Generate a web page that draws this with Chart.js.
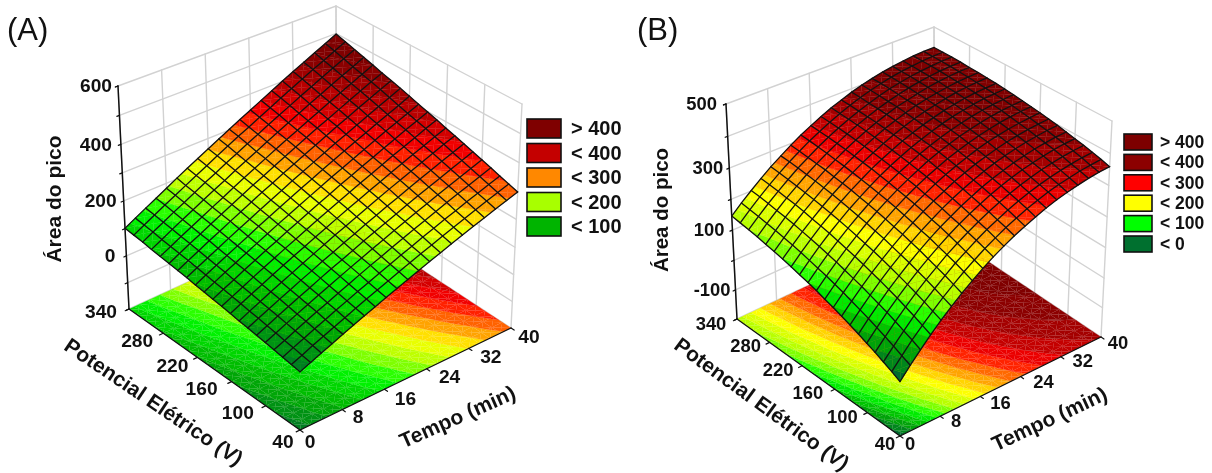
<!DOCTYPE html>
<html>
<head>
<meta charset="utf-8">
<title>Área do pico</title>
<script src="https://cdn.jsdelivr.net/npm/chart.js@4"></script>
<style>
html, body { margin: 0; padding: 0; background: #fff; }
canvas { position: absolute; top: 0; display: block; }
</style>
</head>
<body>
<canvas id="chartA" width="630" height="473" style="left:0"></canvas>
<canvas id="chartB" width="582" height="473" style="left:630px"></canvas>
<script>
var tempoTicks = [0, 8, 16, 24, 32, 40];
var potencialTicks = [40, 100, 160, 220, 280, 340];
var areaGridA = [-100, 0, 100, 200, 300, 400, 500, 600];
var areaTicksA = [0, 200, 400, 600];
var areaGridB = [-100, 0, 100, 200, 300, 400, 500];
var areaTicksB = [-100, 100, 300, 500];

var legendLabelsA = ['> 400', '< 400', '< 300', '< 200', '< 100'];
var legendColorsA = ['#7f0000', '#c40000', '#ff8800', '#a8ff00', '#00b400'];
var legendLabelsB = ['> 400', '< 400', '< 300', '< 200', '< 100', '< 0'];
var legendColorsB = ['#7d0000', '#8c0000', '#ff0000', '#ffff00', '#00ff00', '#00702f'];

// rows: potencial 40..340 step 15, columns: tempo 0..40 step 2
var areaA = [
  [-14,1,16,31,46,61,76,91,106,121,136,151,166,181,196,211,226,241,256,271,286],
  [-9,6,22,37,52,67,83,98,113,128,144,159,174,189,205,220,235,250,266,281,296],
  [-4,12,27,43,58,74,89,105,120,136,151,167,182,198,213,229,244,260,275,291,306],
  [2,17,33,49,65,80,96,112,128,144,159,175,191,207,222,238,254,270,285,301,317],
  [7,23,39,55,71,87,103,119,135,151,167,183,199,215,231,247,263,279,295,311,327],
  [12,28,45,61,77,93,110,126,142,158,175,191,207,223,240,256,272,288,305,321,337],
  [17,34,50,67,83,100,116,133,149,166,182,199,215,232,248,265,282,298,315,331,348],
  [22,39,56,73,90,106,123,140,157,174,190,207,224,241,258,274,291,308,325,342,358],
  [28,45,62,79,96,113,130,147,164,181,198,215,232,249,266,283,300,317,334,351,368],
  [33,50,67,85,102,119,137,154,171,189,206,223,240,258,275,292,310,327,344,362,379],
  [38,56,73,91,108,126,143,161,178,196,214,231,249,266,284,301,319,336,354,371,389],
  [43,61,79,96,114,132,150,168,185,203,221,239,257,274,292,310,328,346,363,381,399],
  [48,66,84,102,120,138,157,175,193,211,229,247,265,283,301,319,337,355,373,391,410],
  [54,72,90,108,127,145,163,182,200,218,237,255,273,291,310,328,346,365,383,401,420],
  [59,78,96,115,133,152,170,189,208,226,245,263,282,300,319,338,356,375,393,412,430],
  [64,83,102,120,139,158,177,196,215,233,252,271,290,309,328,346,365,384,403,422,440],
  [69,88,107,126,145,164,183,203,222,241,260,279,298,317,336,355,374,393,412,431,451],
  [74,93,113,132,151,171,190,209,229,248,267,287,306,325,345,364,383,403,422,441,461],
  [80,100,119,139,158,178,198,217,237,256,276,295,315,335,354,374,393,413,432,452,471],
  [85,105,125,145,164,184,204,224,244,264,284,303,323,343,363,383,403,423,442,462,482],
  [90,110,130,150,170,191,211,231,251,271,291,311,331,351,371,392,412,432,452,472,492]
];
var areaB = [
  [-42,-8,24,55,85,113,139,164,188,210,230,249,266,282,297,310,321,331,340,347,352],
  [-29,4,37,67,96,124,150,175,198,220,240,259,276,292,306,319,330,339,348,354,360],
  [-17,16,48,79,108,135,161,186,208,230,250,268,285,301,315,327,338,347,355,362,367],
  [-5,28,60,90,119,146,171,196,218,239,259,277,294,309,323,335,346,355,363,369,374],
  [6,39,71,101,129,156,181,205,228,249,268,286,303,318,331,343,353,362,370,376,380],
  [17,50,81,111,139,166,191,215,237,257,277,294,311,325,338,350,360,369,376,382,386],
  [28,60,91,121,149,175,200,223,245,266,285,302,318,333,346,357,367,375,382,388,392],
  [38,70,101,130,158,184,209,232,254,274,292,310,325,340,352,363,373,381,388,393,397],
  [48,80,110,139,167,193,217,240,262,281,300,317,332,346,359,370,379,387,393,398,402],
  [57,89,119,148,175,201,225,248,269,289,307,323,339,352,364,375,384,392,398,403,406],
  [67,98,128,156,183,209,233,255,276,295,313,330,345,358,370,380,389,397,403,407,410],
  [75,106,136,164,191,216,240,262,283,302,319,336,350,363,375,385,394,401,407,411,414],
  [83,114,144,172,198,223,246,268,289,308,325,341,355,368,380,390,398,405,411,414,417],
  [91,122,151,179,205,230,253,274,295,313,330,346,360,373,384,394,402,409,414,417,420],
  [99,129,158,185,211,236,259,280,300,318,335,351,365,377,388,397,405,412,417,420,422],
  [106,136,165,192,217,242,264,285,305,323,340,355,369,381,392,401,408,414,419,422,424],
  [112,142,171,198,223,247,270,290,310,328,344,359,373,385,394,403,411,417,421,424,425],
  [119,148,176,203,228,252,274,295,314,332,348,362,376,387,397,406,413,419,423,426,427],
  [125,154,182,208,233,257,278,299,318,335,351,365,378,390,400,408,415,420,424,427,428],
  [130,159,187,213,238,261,282,303,321,338,354,368,381,392,402,410,416,421,425,427,428],
  [135,164,191,217,242,264,286,306,324,341,357,370,383,394,403,411,417,422,426,428,428]
];

var colorStopsA = [
  [-40, [0, 104, 48]], [50, [0, 176, 0]], [90, [0, 216, 0]], [125, [0, 255, 0]],
  [175, [168, 255, 0]], [225, [255, 255, 0]], [270, [255, 144, 0]], [325, [255, 0, 0]],
  [380, [192, 0, 0]], [450, [128, 0, 0]]
];
var colorStopsB = [
  [-40, [0, 104, 48]], [25, [0, 176, 0]], [75, [0, 255, 0]], [125, [168, 255, 0]],
  [190, [255, 255, 0]], [250, [255, 140, 0]], [300, [255, 0, 0]], [350, [176, 0, 0]],
  [400, [128, 0, 0]]
];

var FONT = '"Liberation Sans", Arial, sans-serif';

var panelA = {
  canvas: 'chartA', xMin: 0, xMax: 630, title: '(A)', titleX: 7, zMin: -200, zMax: 600,
  low:  { F: [300, 430], R: [511, 328], L: [129, 309], B: [337, 214] },
  high: { F: [300, 180], R: [522, 104], L: [118, 86], B: [336, 6] },
  area: areaA, stops: colorStopsA, grid: areaGridA, ticks: areaTicksA,
  legendLabels: legendLabelsA, legendColors: legendColorsA,
  legend: { x: 527, y: 119, w: 34, h: 19, step: 24.5, tx: 571, size: 20 },
  tickSize: 19.2, zTickGap: [11, 7, 9, 6],
  tempoOff: [[10, 13], [16, 8], [21, 11], [23, 9], [22, 9], [18, 10]],
  potOff: [[-17, 13], [-28, 8], [-30, 8], [-25, 9], [-26, 9], [-28, 4]],
  titles: [
    { text: 'Área do pico', x: 55, y: 199, rot: -90, size: 21 },
    { text: 'Potencial Elétrico (V)', x: 153, y: 403, rot: 34, size: 21 },
    { text: 'Tempo (min)', x: 458, y: 418, rot: -24, size: 21 }
  ]
};
var panelB = {
  canvas: 'chartB', xMin: 630, xMax: 1212, title: '(B)', titleX: 637, zMin: -200, zMax: 500,
  low:  { F: [900, 436], R: [1101, 337], L: [737, 319], B: [935, 226] },
  high: { F: [900, 195], R: [1112, 121], L: [726, 104], B: [934, 27] },
  area: areaB, stops: colorStopsB, grid: areaGridB, ticks: areaTicksB,
  legendLabels: legendLabelsB, legendColors: legendColorsB,
  legend: { x: 1124, y: 134, w: 28, h: 16, step: 20.4, tx: 1160, size: 17.5 },
  tickSize: 18.4, zTickGap: [5, 8, 6, 9],
  tempoOff: [[10, 9], [16, 6], [20, 8], [23, 6], [22, 5], [17, 7]],
  potOff: [[-15, 9], [-25, 5], [-27, 5], [-24, 5], [-24, 5], [-26, 6]],
  titles: [
    { text: 'Área do pico', x: 662, y: 210, rot: -90, size: 20.5 },
    { text: 'Potencial Elétrico (V)', x: 761, y: 405, rot: 36, size: 21 },
    { text: 'Tempo (min)', x: 1050, y: 420, rot: -25, size: 21 }
  ]
};

// draws a list of filled polygons, one by one, so the cell seams stay like the original
class BandController extends Chart.ScatterController {
  draw() {
    var ds = this.getDataset(), pts = this._cachedMeta.data, ctx = this.chart.ctx, i = 0;
    ctx.save();
    ctx.fillStyle = ds.backgroundColor;
    ctx.strokeStyle = ds.backgroundColor;
    ctx.lineWidth = ds.seamWidth;
    ds.polySizes.forEach(function (n) {
      ctx.beginPath();
      ctx.moveTo(pts[i].x, pts[i].y);
      for (var j = 1; j < n; j++) ctx.lineTo(pts[i + j].x, pts[i + j].y);
      ctx.closePath();
      ctx.fill();
      if (ds.seamWidth > 0) ctx.stroke();
      i += n;
    });
    ctx.restore();
  }
}
BandController.id = 'band';
BandController.defaults = Chart.ScatterController.defaults;
Chart.register(BandController);

function mix(a, b, f) { return a + (b - a) * f; }

function project(p, u, v, w) {
  function layer(c) {
    var x0 = mix(c.F[0], c.R[0], u), y0 = mix(c.F[1], c.R[1], u);
    var x1 = mix(c.L[0], c.B[0], u), y1 = mix(c.L[1], c.B[1], u);
    return [mix(x0, x1, v), mix(y0, y1, v)];
  }
  var a = layer(p.low), b = layer(p.high);
  return { x: mix(a[0], b[0], w), y: mix(a[1], b[1], w) };
}
function tempoU(t) { return t / 40; }
function potV(V) { return (V - 40) / 300; }
function areaW(p, z) { return (z - p.zMin) / (p.zMax - p.zMin); }
// the vertical axis of the original is not quite evenly spaced (perspective)
function axisW(p, z) { var w = areaW(p, z); return w - 0.062 * w * (1 - w); }

function colorFor(stops, z) {
  if (z <= stops[0][0]) return 'rgb(' + stops[0][1].join(',') + ')';
  for (var i = 1; i < stops.length; i++) {
    if (z <= stops[i][0]) {
      var f = (z - stops[i - 1][0]) / (stops[i][0] - stops[i - 1][0]);
      var c = stops[i - 1][1].map(function (a, k) { return Math.round(mix(a, stops[i][1][k], f)); });
      return 'rgb(' + c.join(',') + ')';
    }
  }
  return 'rgb(' + stops[stops.length - 1][1].join(',') + ')';
}

function clip(poly, level, keepAbove) {
  var out = [];
  for (var i = 0; i < poly.length; i++) {
    var a = poly[i], b = poly[(i + 1) % poly.length];
    var ina = keepAbove ? a[2] >= level : a[2] <= level;
    var inb = keepAbove ? b[2] >= level : b[2] <= level;
    if (ina) out.push(a);
    if (ina !== inb) {
      var f = (level - a[2]) / (b[2] - a[2]);
      out.push([mix(a[0], b[0], f), mix(a[1], b[1], f), level]);
    }
  }
  return out;
}

// colour bands of the surface, split over the triangles of each cell
function bandDatasets(p, onFloor, seam) {
  var step = 25, bands = {};
  var g = p.area;
  function addTri(tri) {
    var zs = tri.map(function (q) { return q[2]; });
    var lo = Math.floor(Math.min.apply(null, zs) / step), hi = Math.floor(Math.max.apply(null, zs) / step);
    for (var b = lo; b <= hi; b++) {
      var poly = clip(clip(tri, b * step, true), (b + 1) * step, false);
      if (poly.length < 3) continue;
      if (!bands[b]) bands[b] = { data: [], sizes: [] };
      bands[b].sizes.push(poly.length);
      poly.forEach(function (q) {
        var w = onFloor ? 0 : areaW(p, q[2]);
        bands[b].data.push(project(p, q[0] / 20, q[1] / 20, w));
      });
    }
  }
  for (var r = 0; r < 20; r++) {
    for (var k = 0; k < 20; k++) {
      var a = [k, r, g[r][k]], b = [k + 1, r, g[r][k + 1]];
      var c = [k + 1, r + 1, g[r + 1][k + 1]], d = [k, r + 1, g[r + 1][k]];
      var m = [k + 0.5, r + 0.5, (a[2] + b[2] + c[2] + d[2]) / 4];
      addTri([a, b, m]); addTri([b, c, m]); addTri([c, d, m]); addTri([d, a, m]);
    }
  }
  return Object.keys(bands).map(function (key) {
    return {
      type: 'band', data: bands[key].data, polySizes: bands[key].sizes, seamWidth: seam,
      backgroundColor: colorFor(p.stops, (Number(key) + 0.5) * step),
      parsing: false, normalized: true, pointRadius: 0, clip: false
    };
  });
}

function line(points, color, width) {
  return {
    type: 'scatter', showLine: true, data: points, borderColor: color, borderWidth: width,
    pointRadius: 0, tension: 0, fill: false, clip: false, borderCapStyle: 'round'
  };
}

function buildDatasets(p) {
  var sets = [];
  var gridColor = '#d2d2d2', gridWidth = 1.4, ink = '#111';
  var i, u, v, w;
  // walls
  var zLines = [p.zMin].concat(p.grid);
  zLines.forEach(function (z) {
    w = axisW(p, z);
    sets.push(line([project(p, 0, 1, w), project(p, 1, 1, w), project(p, 1, 0, w)], gridColor, gridWidth));
  });
  tempoTicks.forEach(function (t) {
    u = tempoU(t);
    sets.push(line([project(p, u, 1, 0), project(p, u, 1, 1)], gridColor, gridWidth));
  });
  potencialTicks.forEach(function (V) {
    v = potV(V);
    sets.push(line([project(p, 1, v, 0), project(p, 1, v, 1)], gridColor, gridWidth));
  });
  // floor
  sets = sets.concat(bandDatasets(p, true, 0.12));
  sets.push(line([project(p, 0, 1, 0), project(p, 0, 0, 0), project(p, 1, 0, 0)], ink, 1.3));
  tempoTicks.forEach(function (t) {
    u = tempoU(t);
    sets.push(line([project(p, u, 0, 0), project(p, u, -0.018, 0)], ink, 1.2));
  });
  potencialTicks.forEach(function (V) {
    v = potV(V);
    sets.push(line([project(p, 0, v, 0), project(p, -0.018, v, 0)], ink, 1.2));
  });
  // vertical axis
  sets.push(line([project(p, 0, 1, 0), project(p, 0, 1, 1)], ink, 1.5));
  zLines.concat([p.zMax]).forEach(function (z) {
    w = axisW(p, z);
    sets.push(line([project(p, 0, 1, w), project(p, -0.012, 1, w)], ink, 1.2));
  });
  // surface
  sets = sets.concat(bandDatasets(p, false, 0.3));
  for (i = 0; i <= 20; i++) {
    var rowPts = [], colPts = [];
    for (var j = 0; j <= 20; j++) {
      rowPts.push(project(p, j / 20, i / 20, areaW(p, p.area[i][j])));
      colPts.push(project(p, i / 20, j / 20, areaW(p, p.area[j][i])));
    }
    sets.push(line(rowPts, ink, 1.3));
    sets.push(line(colPts, ink, 1.3));
  }
  // first dataset is painted last unless order says otherwise
  sets.forEach(function (d, n) { d.order = sets.length - n; });
  return sets;
}

function textPlugin(p) {
  return {
    id: 'panelText',
    afterDatasetsDraw: function (chart) {
      var ctx = chart.ctx, sx = chart.scales.x, sy = chart.scales.y;
      function put(text, x, y, font, align, rot) {
        ctx.save();
        ctx.translate(sx.getPixelForValue(x), sy.getPixelForValue(y));
        if (rot) ctx.rotate(rot * Math.PI / 180);
        ctx.font = font;
        ctx.fillStyle = '#111';
        ctx.textAlign = align;
        ctx.textBaseline = 'middle';
        ctx.fillText(text, 0, 0);
        ctx.restore();
      }
      var tickFont = 'bold ' + p.tickSize + 'px ' + FONT;
      put(p.title, p.titleX, 31, '31px ' + FONT, 'left');
      p.ticks.forEach(function (z, i) {
        var q = project(p, 0, 1, axisW(p, z));
        put(String(z), q.x - p.zTickGap[i], q.y + 1, tickFont, 'right');
      });
      tempoTicks.forEach(function (t, i) {
        var q = project(p, tempoU(t), 0, 0);
        put(String(t), q.x + p.tempoOff[i][0], q.y + p.tempoOff[i][1], tickFont, 'center');
      });
      potencialTicks.forEach(function (V, i) {
        var q = project(p, 0, potV(V), 0);
        put(String(V), q.x + p.potOff[i][0], q.y + p.potOff[i][1], tickFont, 'center');
      });
      p.titles.forEach(function (t) {
        put(t.text, t.x, t.y, 'bold ' + t.size + 'px ' + FONT, 'center', t.rot);
      });
      var lg = p.legend;
      p.legendLabels.forEach(function (label, i) {
        var top = lg.y + lg.step * i;
        var x0 = sx.getPixelForValue(lg.x), y0 = sy.getPixelForValue(top);
        ctx.fillStyle = p.legendColors[i];
        ctx.fillRect(x0, y0, lg.w, lg.h);
        ctx.strokeStyle = '#111';
        ctx.lineWidth = 1.6;
        ctx.strokeRect(x0, y0, lg.w, lg.h);
        put(label, lg.tx, top + lg.h / 2 + 1, 'bold ' + lg.size + 'px ' + FONT, 'left');
      });
    }
  };
}

function drawPanel(p) {
  return new Chart(document.getElementById(p.canvas), {
    type: 'scatter',
    data: { datasets: buildDatasets(p) },
    options: {
      responsive: false, animation: false, devicePixelRatio: 1, events: [],
      layout: { padding: 0 },
      plugins: { legend: { display: false }, tooltip: { enabled: false } },
      scales: {
        x: { type: 'linear', display: false, min: p.xMin, max: p.xMax },
        y: { type: 'linear', display: false, min: 0, max: 473, reverse: true }
      }
    },
    plugins: [textPlugin(p)]
  });
}

drawPanel(panelA);
drawPanel(panelB);
</script>
</body>
</html>
